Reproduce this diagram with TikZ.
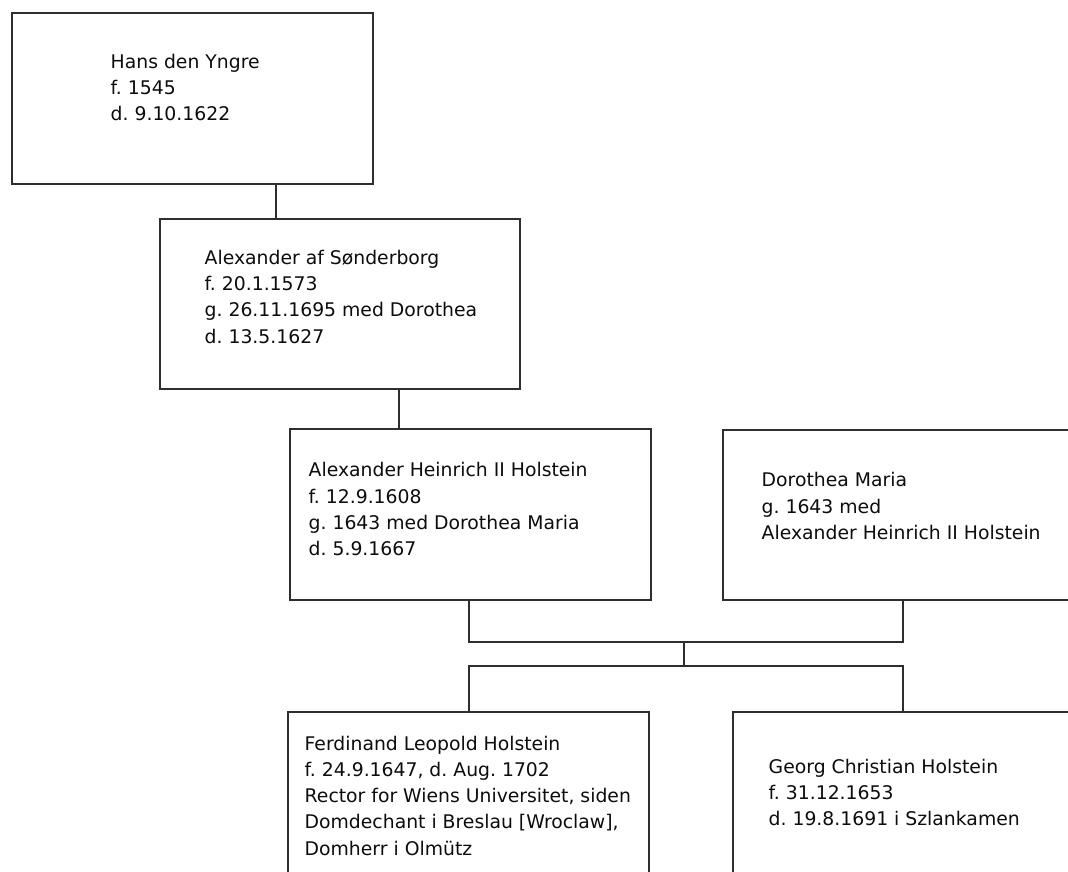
\documentclass[tikz,border=0pt]{standalone}
\usepackage{fontspec}
\setmainfont{DejaVu Sans}
\definecolor{linec}{gray}{0.18}
\definecolor{txtc}{gray}{0.05}
\frenchspacing
\begin{document}
\begin{tikzpicture}[x=1pt,y=-1pt,
  famtbox/.style n args={2}{draw=linec, line width=1.6pt, rectangle, anchor=north west,
     inner sep=0pt, minimum width=#1, minimum height=#2},
  famtxt/.style={anchor=base west, inner sep=0pt, text=txtc,
     font=\fontsize{18.8}{26.3}\selectfont\frenchspacing},
  conn/.style={draw=linec, line width=1.6pt, line cap=rect}]
\fill[white] (0,0) rectangle (1068,872);
\clip (0,0) rectangle (1068,872);

% boxes
\node[famtbox={361pt}{171pt}] (b1) at (11,12) {};
\node[famtbox={360pt}{170pt}] (b2) at (159,218) {};
\node[famtbox={361pt}{171pt}] (b3) at (289,428) {};
\node[famtbox={360pt}{170pt}] (b4) at (722,429) {};
\node[famtbox={361pt}{200pt}] (b5) at (287,711) {};
\node[famtbox={360pt}{200pt}] (b6) at (732,711) {};

% texts
\node[famtxt] (t1) at (110.5,68.3) {\begin{tabular}[t]{@{}l@{}}Hans den Yngre\\ f. 1545\\ d. 9.10.1622\end{tabular}};
\node[famtxt] (t2) at (204.5,264.3) {\begin{tabular}[t]{@{}l@{}}Alexander af Sønderborg\\ f. 20.1.1573\\ g. 26.11.1695 med Dorothea\\ d. 13.5.1627\end{tabular}};
\node[famtxt] (t3) at (308.5,476.7) {\begin{tabular}[t]{@{}l@{}}Alexander Heinrich II Holstein\\ f. 12.9.1608\\ g. 1643 med Dorothea Maria\\ d. 5.9.1667\end{tabular}};
\node[famtxt] (t4) at (761.5,486.7) {\begin{tabular}[t]{@{}l@{}}Dorothea Maria\\ g. 1643 med\\ Alexander Heinrich II Holstein\end{tabular}};
\node[famtxt] (t5) at (304.5,750) {\begin{tabular}[t]{@{}l@{}}Ferdinand Leopold Holstein\\ f. 24.9.1647, d. Aug. 1702\\ Rector for Wiens Universitet, siden\\ Domdechant i Breslau [Wroclaw],\\ Domherr i Olmütz\end{tabular}};
\node[famtxt] (t6) at (768.5,773.3) {\begin{tabular}[t]{@{}l@{}}Georg Christian Holstein\\ f. 31.12.1653\\ d. 19.8.1691 i Szlankamen\end{tabular}};

% connector columns
\coordinate (c1) at (276,0);
\coordinate (c2) at (399,0);
\coordinate (c3) at (469,0);
\coordinate (c4) at (903,0);
\coordinate (c5) at (684,0);
\coordinate (h1) at (0,642);
\coordinate (h2) at (0,666);

\draw[conn] (b1.south -| c1) -- (b2.north -| c1);
\draw[conn] (b2.south -| c2) -- (b3.north -| c2);
\draw[conn] (b3.south -| c3) -- (h1 -| c3) -- (h1 -| c4) -- (b4.south -| c4);
\draw[conn] (h1 -| c5) -- (h2 -| c5);
\draw[conn] (b5.north -| c3) -- (h2 -| c3) -- (h2 -| c4) -- (b6.north -| c4);
\end{tikzpicture}
\end{document}
